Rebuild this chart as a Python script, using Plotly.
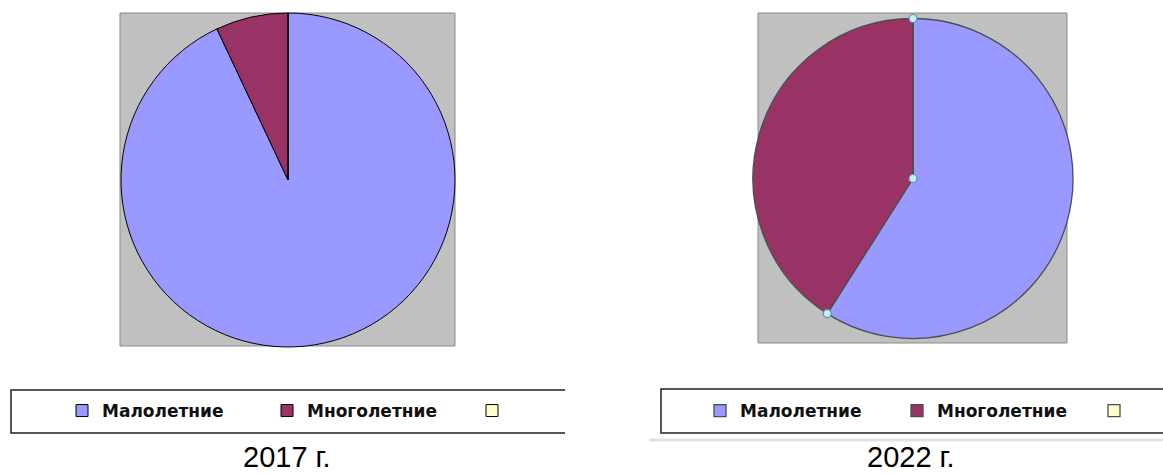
import math
import plotly.graph_objects as go

W, H = 1163, 475

categories = ["Малолетние", "Многолетние", " "]
values_2017 = [93, 7, 0]
values_2022 = [59, 41, 0]
colors = ["#9999FF", "#993366", "#FFFFCC"]
titles = ["2017 г.", "2022 г."]


def px(x):
    return x / W


def py(y):
    return 1 - y / H


fig = go.Figure()

# pie geometry (pixels); the second pie gets invisibly distinct labels so that
# it keeps its own legend entries
pies = [
    dict(vals=values_2017, labels=categories, cx=288, cy=180, r=167,
         line="#000000", lw=1, legend="legend"),
    dict(vals=values_2022, labels=[c + "\u200b" for c in categories], cx=913, cy=178.5, r=160,
         line="#4d4d4d", lw=1.3, legend="legend2"),
]

for p in pies:
    fig.add_trace(go.Pie(
        labels=p["labels"],
        values=p["vals"],
        sort=False,
        direction="clockwise",
        rotation=0,
        textinfo="none",
        hoverinfo="label+value",
        marker=dict(colors=colors, line=dict(color=p["line"], width=p["lw"])),
        domain=dict(x=[px(p["cx"] - p["r"]), px(p["cx"] + p["r"])],
                    y=[py(p["cy"] + p["r"]), py(p["cy"] - p["r"])]),
        legend=p["legend"],
        showlegend=True,
    ))

shapes = []
# gray backgrounds
for (x0, y0, x1, y1) in [(120, 13, 455, 346), (758, 13, 1067, 343)]:
    shapes.append(dict(type="rect", xref="paper", yref="paper", layer="below",
                       x0=px(x0), x1=px(x1), y0=py(y1), y1=py(y0),
                       fillcolor="#C0C0C0", line=dict(color="#8a8a8a", width=1)))


# legend frames (open on the right)
def frame(x0, x1, y0, y1):
    return (f"M{px(x1)},{py(y0)} L{px(x0)},{py(y0)} L{px(x0)},{py(y1)} L{px(x1)},{py(y1)}")


shapes.append(dict(type="path", xref="paper", yref="paper", path=frame(11, 565, 390, 433),
                   line=dict(color="#222222", width=1.5)))
shapes.append(dict(type="path", xref="paper", yref="paper", path=frame(661, 1170, 389, 433),
                   line=dict(color="#222222", width=1.5)))
shapes.append(dict(type="line", xref="paper", yref="paper", x0=px(649), x1=px(1170),
                   y0=py(440), y1=py(440), line=dict(color="#dde5ea", width=3)))

# selection handles on the 2022 pie, derived from the slice boundary
p = pies[1]
tot = sum(p["vals"])
ang = 2 * math.pi * p["vals"][0] / tot
pts = [(p["cx"], p["cy"]), (p["cx"], p["cy"] - p["r"]),
       (p["cx"] + p["r"] * math.sin(ang), p["cy"] - p["r"] * math.cos(ang))]
for (hx, hy) in pts:
    shapes.append(dict(type="circle", xref="paper", yref="paper",
                       x0=px(hx - 4), x1=px(hx + 4), y0=py(hy + 4), y1=py(hy - 4),
                       fillcolor="#c8eef5", line=dict(color="#4f94b8", width=1.2)))

title_font = dict(family="Liberation Sans Narrow, Arial Narrow, sans-serif", size=29, color="#000")
annotations = [
    dict(text=titles[0], x=px(287), y=0, xref="paper", yref="paper",
         showarrow=False, xanchor="center", yanchor="bottom", font=title_font),
    dict(text=titles[1], x=px(911), y=0, xref="paper", yref="paper",
         showarrow=False, xanchor="center", yanchor="bottom", font=title_font),
]

legend_font = dict(family="DejaVu Sans", size=17, color="#111111", weight="bold")

fig.update_layout(
    width=W, height=H,
    margin=dict(l=0, r=0, t=0, b=0, autoexpand=False),
    paper_bgcolor="white", plot_bgcolor="white",
    shapes=shapes,
    annotations=annotations,
    legend=dict(orientation="h", x=px(62), y=py(411), xanchor="left", yanchor="middle",
                font=legend_font, itemwidth=30, entrywidth=160, bgcolor="rgba(0,0,0,0)",
                itemclick=False, itemdoubleclick=False),
    legend2=dict(orientation="h", x=px(700), y=py(411), xanchor="left", yanchor="middle",
                 font=legend_font, itemwidth=30, entrywidth=152, bgcolor="rgba(0,0,0,0)",
                 itemclick=False, itemdoubleclick=False),
)

fig.write_html("out.html")
